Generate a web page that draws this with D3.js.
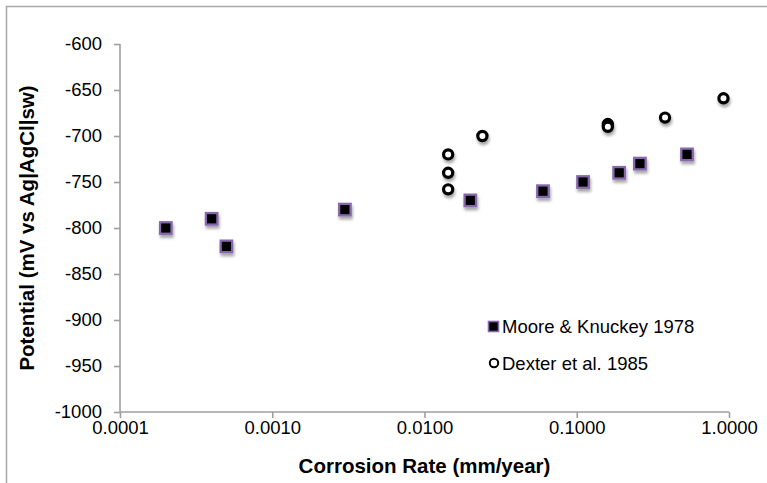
<!DOCTYPE html>
<html>
<head>
<meta charset="utf-8">
<script src="https://cdn.jsdelivr.net/npm/d3@7"></script>
<style>
  html, body { margin: 0; padding: 0; background: #fff; }
  svg { display: block; }
  text { font-family: "Liberation Sans", Arial, sans-serif; fill: #000; }
</style>
</head>
<body>
<svg id="chart" width="767" height="483"></svg>
<script>
// Corrosion rate (mm/year) vs potential (mV vs Ag|AgCl|sw)
const mooreRate      = [0.0002, 0.0004, 0.0005, 0.003, 0.02, 0.06, 0.11, 0.19, 0.26, 0.53];
const moorePotential = [-800, -790, -820, -780, -770, -760, -750, -740, -730, -720];

const dexterRate      = [0.0143, 0.0143, 0.0143, 0.024, 0.16, 0.16, 0.38, 0.92];
const dexterPotential = [-720, -740, -758, -700, -687, -690, -680, -659];

const xTicks = [0.0001, 0.001, 0.01, 0.1, 1];
const yTicks = [-1000, -950, -900, -850, -800, -750, -700, -650, -600];

const seriesNames = ["Moore & Knuckey 1978", "Dexter et al. 1985"];

const svg = d3.select("#chart");
const W = 767, H = 483;
const plot = { left: 120, right: 729, top: 44, bottom: 412 };
const axisColor = "#9f9f9f";

// outer chart frame
svg.append("rect")
  .attr("x", 6.5).attr("y", 6.5)
  .attr("width", W + 10).attr("height", H + 10)
  .attr("fill", "#fff").attr("stroke", "#a8a8a8").attr("stroke-width", 1.5);

// drop shadow for plotted markers
const defs = svg.append("defs");
const f = defs.append("filter").attr("id", "shadow")
  .attr("x", "-60%").attr("y", "-60%").attr("width", "220%").attr("height", "220%");
f.append("feDropShadow")
  .attr("dx", 1).attr("dy", 3).attr("stdDeviation", 1.6)
  .attr("flood-color", "#000").attr("flood-opacity", 0.35);

const x = d3.scaleLog().domain([0.0001, 1]).range([plot.left, plot.right]);
const y = d3.scaleLinear().domain([-1000, -600]).range([plot.bottom, plot.top]);

// y axis (plain hyphen for negatives)
const yAxis = svg.append("g")
  .attr("transform", `translate(${plot.left},0)`)
  .call(d3.axisLeft(y).tickValues(yTicks).tickSize(6).tickPadding(12).tickFormat(d => String(d)));
yAxis.selectAll("text").style("font-size", "18.5px").attr("fill", "#000");

// x axis
const xAxis = svg.append("g")
  .attr("transform", `translate(0,${plot.bottom})`)
  .call(d3.axisBottom(x).tickValues(xTicks).tickSize(6).tickPadding(3).tickFormat(d3.format(".4f")));
xAxis.selectAll("text").style("font-size", "18.5px").attr("fill", "#000");

[yAxis, xAxis].forEach(a => {
  a.select(".domain").attr("stroke", axisColor).attr("stroke-width", 1.6);
  a.selectAll(".tick line").attr("stroke", axisColor).attr("stroke-width", 1.6);
});
yAxis.select(".domain").attr("d", `M0,${plot.top}V${plot.bottom}`);
xAxis.select(".domain").attr("d", `M${plot.left},0H${plot.right}`);

// axis titles
svg.append("text")
  .attr("x", (plot.left + plot.right) / 2).attr("y", 473)
  .attr("text-anchor", "middle")
  .style("font-size", "20.5px").style("font-weight", "bold")
  .text("Corrosion Rate (mm/year)");

svg.append("text")
  .attr("transform", `translate(34,${(plot.top + plot.bottom) / 2}) rotate(-90)`)
  .attr("text-anchor", "middle")
  .style("font-size", "20.5px").style("font-weight", "bold")
  .text("Potential (mV vs Ag|AgCl|sw)");

const purple = "#8768ad";

// Dexter et al. 1985: open circles
svg.append("g").attr("filter", "url(#shadow)")
  .selectAll("circle")
  .data(dexterRate.map((r, i) => ({ r, p: dexterPotential[i] })))
  .join("circle")
  .attr("cx", d => x(d.r)).attr("cy", d => y(d.p))
  .attr("r", 4.6)
  .attr("fill", "#fff").attr("stroke", "#000").attr("stroke-width", 3.2);

// Moore & Knuckey 1978: filled squares
const sq = 11.5;
svg.append("g").attr("filter", "url(#shadow)")
  .selectAll("rect")
  .data(mooreRate.map((r, i) => ({ r, p: moorePotential[i] })))
  .join("rect")
  .attr("x", d => x(d.r) - sq / 2).attr("y", d => y(d.p) - sq / 2)
  .attr("width", sq).attr("height", sq)
  .attr("fill", "#000").attr("stroke", purple).attr("stroke-width", 2.3);

// legend
const lg = svg.append("g");
lg.append("rect")
  .attr("x", 488.5).attr("y", 321.5).attr("width", 10).attr("height", 10)
  .attr("fill", "#000").attr("stroke", purple).attr("stroke-width", 1.6);
lg.append("text")
  .attr("x", 502).attr("y", 333)
  .style("font-size", "18.5px")
  .text(seriesNames[0]);
lg.append("circle")
  .attr("cx", 494).attr("cy", 363).attr("r", 4.2)
  .attr("fill", "#fff").attr("stroke", "#000").attr("stroke-width", 2);
lg.append("text")
  .attr("x", 502).attr("y", 370)
  .style("font-size", "18.5px")
  .text(seriesNames[1]);
</script>
</body>
</html>
